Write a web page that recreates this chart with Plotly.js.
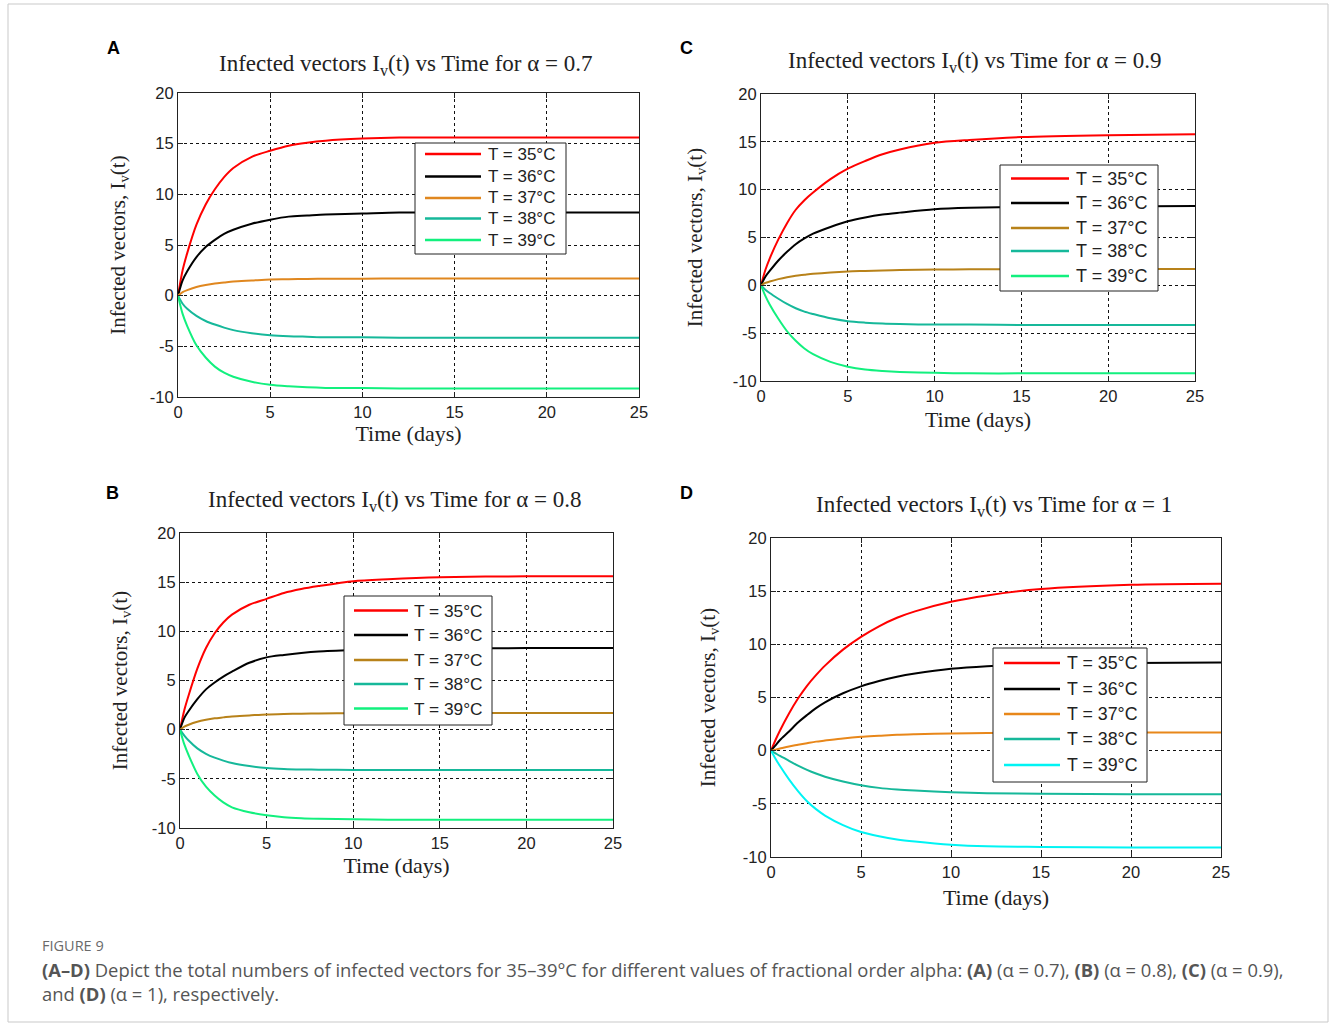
<!DOCTYPE html>
<html>
<head>
<meta charset="utf-8">
<script src="https://cdn.plot.ly/plotly-3.0.1.min.js"></script>
<style>
html,body{margin:0;padding:0;background:#fff;}
#chart{width:1330px;height:1028px;}
</style>
</head>
<body>
<div id="chart"></div>
<script>
// ---- data ----
const timeDays = [0,0.25,0.5,1,1.5,2,2.5,3,4,5,6,7,8,10,12,15,20,25];
const seriesNames = ['T = 35°C','T = 36°C','T = 37°C','T = 38°C','T = 39°C'];
const yTicks = [-10,-5,0,5,10,15,20];
const xTicks = [0,5,10,15,20,25];

// Panel A (alpha = 0.7)
const alpha07_T35 = [0,2.5,4.2,7.0,9.0,10.5,11.7,12.6,13.7,14.3,14.8,15.1,15.3,15.5,15.6,15.6,15.6,15.6];
const alpha07_T36 = [0,1.5,2.4,3.8,4.8,5.5,6.1,6.5,7.1,7.5,7.8,7.9,8.0,8.1,8.2,8.2,8.2,8.2];
const alpha07_T37 = [0,0.35,0.55,0.85,1.05,1.2,1.3,1.4,1.5,1.6,1.62,1.65,1.67,1.68,1.7,1.7,1.7,1.7];
const alpha07_T38 = [0,-0.8,-1.3,-2.0,-2.5,-2.85,-3.15,-3.4,-3.7,-3.9,-4.0,-4.05,-4.1,-4.1,-4.15,-4.15,-4.15,-4.15];
const alpha07_T39 = [0,-1.8,-3.0,-4.9,-6.1,-7.0,-7.6,-8.0,-8.5,-8.8,-8.95,-9.05,-9.1,-9.1,-9.15,-9.15,-9.15,-9.15];

// Panel B (alpha = 0.8)
const alpha08_T35 = [0,2.0,3.5,6.2,8.3,9.8,10.9,11.7,12.7,13.3,13.9,14.3,14.6,15.1,15.3,15.5,15.6,15.6];
const alpha08_T36 = [0,1.2,1.9,3.1,4.1,4.8,5.4,5.9,6.8,7.35,7.6,7.8,7.95,8.1,8.2,8.25,8.3,8.3];
const alpha08_T37 = [0,0.3,0.5,0.8,1.0,1.15,1.25,1.35,1.45,1.55,1.6,1.63,1.65,1.68,1.7,1.7,1.7,1.7];
const alpha08_T38 = [0,-0.6,-1.1,-1.9,-2.45,-2.85,-3.15,-3.4,-3.7,-3.9,-4.0,-4.05,-4.07,-4.1,-4.1,-4.1,-4.1,-4.1];
const alpha08_T39 = [0,-1.5,-2.6,-4.5,-5.8,-6.7,-7.4,-7.9,-8.4,-8.7,-8.9,-9.0,-9.05,-9.1,-9.15,-9.15,-9.15,-9.15];

// Panel C (alpha = 0.9)
const alpha09_T35 = [0,1.6,2.8,4.8,6.5,7.9,8.9,9.7,11.1,12.2,13.0,13.7,14.2,14.9,15.2,15.5,15.7,15.8];
const alpha09_T36 = [0,0.9,1.5,2.6,3.5,4.3,4.9,5.4,6.1,6.7,7.1,7.4,7.6,7.95,8.1,8.2,8.25,8.3];
const alpha09_T37 = [0,0.25,0.4,0.65,0.85,1.0,1.1,1.2,1.35,1.45,1.5,1.55,1.6,1.65,1.68,1.7,1.7,1.7];
const alpha09_T38 = [0,-0.45,-0.8,-1.4,-1.95,-2.4,-2.75,-3.0,-3.45,-3.75,-3.9,-4.0,-4.05,-4.1,-4.1,-4.15,-4.15,-4.15];
const alpha09_T39 = [0,-1.1,-2.0,-3.5,-4.8,-5.8,-6.6,-7.2,-8.0,-8.5,-8.8,-8.95,-9.05,-9.15,-9.2,-9.2,-9.2,-9.2];

// Panel D (alpha = 1)
const alpha10_T35 = [0,1.0,1.9,3.5,4.9,6.1,7.1,8.0,9.5,10.7,11.7,12.5,13.1,14.0,14.6,15.2,15.6,15.7];
const alpha10_T36 = [0,0.5,1.0,1.8,2.65,3.35,4.0,4.55,5.4,6.05,6.55,6.95,7.25,7.7,7.95,8.15,8.25,8.3];
const alpha10_T37 = [0,0.1,0.2,0.4,0.55,0.7,0.85,0.95,1.15,1.3,1.4,1.5,1.55,1.62,1.66,1.69,1.7,1.7];
const alpha10_T38 = [0,-0.25,-0.5,-0.95,-1.4,-1.8,-2.15,-2.45,-2.9,-3.25,-3.5,-3.65,-3.75,-3.9,-4.0,-4.05,-4.1,-4.1];
const alpha10_T39 = [0,-0.75,-1.45,-2.7,-3.8,-4.75,-5.5,-6.1,-7.0,-7.65,-8.05,-8.35,-8.55,-8.85,-9.0,-9.05,-9.1,-9.1];

// ---- styling ----
const SANS = 'Liberation Sans, Arial, sans-serif';
const SERIF = 'Liberation Serif, Times New Roman, serif';
const W = 1330, H = 1028;
const px = v => v / W;
const py = v => 1 - v / H;

const panels = [
  {ax:'', data:[alpha07_T35,alpha07_T36,alpha07_T37,alpha07_T38,alpha07_T39],
   colors:['#ff0000','#000000','#e0871f','#16b89a','#12f07e'],
   plot:[178,639,93,397], ystand:18, xstand:4,
   leg:{x0:415,x1:566,y0:143,y1:254,l0:425,l1:481,tx:486,rows:[154,176.5,198,218.5,240],size:17}},
  {ax:'2', data:[alpha08_T35,alpha08_T36,alpha08_T37,alpha08_T38,alpha08_T39],
   colors:['#ff0000','#000000','#b8821a','#16b89a','#12f07e'],
   plot:[180,613,533,828], ystand:18, xstand:6,
   leg:{x0:344,x1:492,y0:596,y1:725,l0:354,l1:408,tx:412,rows:[610.5,635,660,684,708.5],size:17.3}},
  {ax:'3', data:[alpha09_T35,alpha09_T36,alpha09_T37,alpha09_T38,alpha09_T39],
   colors:['#ff0000','#000000','#b8821a','#16b89a','#12f07e'],
   plot:[761,1195,94,381], ystand:24, xstand:7,
   leg:{x0:1000,x1:1158,y0:165,y1:291,l0:1011,l1:1069,tx:1074,rows:[178.5,203,228,251,276],size:18}},
  {ax:'4', data:[alpha10_T35,alpha10_T36,alpha10_T37,alpha10_T38,alpha10_T39],
   colors:['#ff0000','#000000','#e8871a','#16b89a','#00f4f4'],
   plot:[771,1221,538,857], ystand:21, xstand:9,
   leg:{x0:993,x1:1147,y0:648,y1:782,l0:1004,l1:1060,tx:1065,rows:[663,689,714,739,765],size:17.8}}
];

const traces = [];
panels.forEach(p => {
  p.data.forEach((vals, i) => {
    traces.push({
      x: timeDays, y: vals, type: 'scatter', mode: 'lines',
      name: seriesNames[i],
      xaxis: 'x' + p.ax, yaxis: 'y' + p.ax,
      line: {color: p.colors[i], width: 2, shape: 'spline', smoothing: 0.8},
      hoverinfo: 'skip', showlegend: false
    });
  });
});

function xAxis(p) {
  return {
    anchor: 'y' + p.ax,
    domain: [px(p.plot[0]), px(p.plot[1])], range: [0, 25], tickvals: xTicks, ticktext: xTicks.map(String),
    showgrid: true, gridcolor: '#111', griddash: '3px,3px', gridwidth: 1,
    zeroline: false, showline: true, linecolor: '#222', linewidth: 1, mirror: 'ticks',
    ticks: 'inside', ticklen: 5, tickcolor: '#222',
    tickfont: {family: SANS, size: 16.5, color: '#222'},
    title: {text: 'Time (days)', font: {family: SERIF, size: 22, color: '#222'}, standoff: p.xstand},
    automargin: false, fixedrange: true
  };
}
function yAxis(p) {
  return {
    anchor: 'x' + p.ax,
    domain: [py(p.plot[3]), py(p.plot[2])], range: [-10, 20], tickvals: yTicks, ticktext: yTicks.map(String),
    showgrid: true, gridcolor: '#111', griddash: '3px,3px', gridwidth: 1,
    zeroline: false, showline: true, linecolor: '#222', linewidth: 1, mirror: 'ticks',
    ticks: 'inside', ticklen: 5, tickcolor: '#222',
    tickfont: {family: SANS, size: 16.5, color: '#222'},
    title: {text: 'Infected vectors, I<sub>v</sub>(t)', font: {family: SERIF, size: 21, color: '#222'}, standoff: p.ystand},
    automargin: false, fixedrange: true
  };
}

function ann(text, x, y, font, xanchor) {
  return {text: text, x: px(x), y: py(y), xref: 'paper', yref: 'paper',
          xanchor: xanchor || 'center', yanchor: 'middle', showarrow: false, font: font};
}
const titleFont = {family: SERIF, size: 23, color: '#222'};
const letterFont = {family: SANS, size: 18, color: '#000', weight: 'bold'};
const capFont = {family: 'Open Sans, Noto Sans, sans-serif', size: 18.4, color: '#555'};

const annotations = [
  ann('<b>A</b>', 113, 48, letterFont),
  ann('<b>C</b>', 686, 48, letterFont),
  ann('<b>B</b>', 112, 493, letterFont),
  ann('<b>D</b>', 686, 493, letterFont),
  ann('Infected vectors I<sub>v</sub>(t) vs Time for α = 0.7', 406, 65, titleFont),
  ann('Infected vectors I<sub>v</sub>(t) vs Time for α = 0.9', 975, 62, titleFont),
  ann('Infected vectors I<sub>v</sub>(t) vs Time for α = 0.8', 395, 501, titleFont),
  ann('Infected vectors I<sub>v</sub>(t) vs Time for α = 1', 994, 506, titleFont),
  ann('FIGURE 9', 40, 945, {family: 'Open Sans, Noto Sans, sans-serif', size: 14.5, color: '#6a6a6a'}, 'left'),
  ann('<b>(A–D)</b> Depict the total numbers of infected vectors for 35–39°C for different values of fractional order alpha: <b>(A)</b> (α = 0.7), <b>(B)</b> (α = 0.8), <b>(C)</b> (α = 0.9),', 40, 969, capFont, 'left'),
  ann('and <b>(D)</b> (α = 1), respectively.', 40, 993, capFont, 'left')
];

const shapes = [
  {type: 'rect', xref: 'paper', yref: 'paper', x0: px(8), x1: px(1328), y0: py(1022), y1: py(4),
   line: {color: '#c9c9c9', width: 1}, fillcolor: 'rgba(0,0,0,0)', layer: 'below'}
];

// legend boxes (drawn per panel, names/colors from the series definitions)
panels.forEach(p => {
  const g = p.leg;
  shapes.push({type: 'rect', xref: 'paper', yref: 'paper', x0: px(g.x0), x1: px(g.x1), y0: py(g.y1), y1: py(g.y0),
    line: {color: '#222', width: 1}, fillcolor: '#ffffff', layer: 'above'});
  seriesNames.forEach((nm, i) => {
    shapes.push({type: 'line', xref: 'paper', yref: 'paper', x0: px(g.l0), x1: px(g.l1), y0: py(g.rows[i]), y1: py(g.rows[i]),
      line: {color: p.colors[i], width: 2.5}, layer: 'above'});
    annotations.push(ann(nm, g.tx, g.rows[i], {family: SANS, size: g.size, color: '#222'}, 'left'));
  });
});

const layout = {
  width: W, height: H,
  margin: {l: 0, r: 0, t: 0, b: 0},
  paper_bgcolor: '#ffffff', plot_bgcolor: '#ffffff',
  showlegend: false,
  annotations: annotations,
  shapes: shapes
};
panels.forEach(p => {
  layout['xaxis' + p.ax] = xAxis(p);
  layout['yaxis' + p.ax] = yAxis(p);
});

Plotly.newPlot('chart', traces, layout, {staticPlot: true, displayModeBar: false});
</script>
</body>
</html>
